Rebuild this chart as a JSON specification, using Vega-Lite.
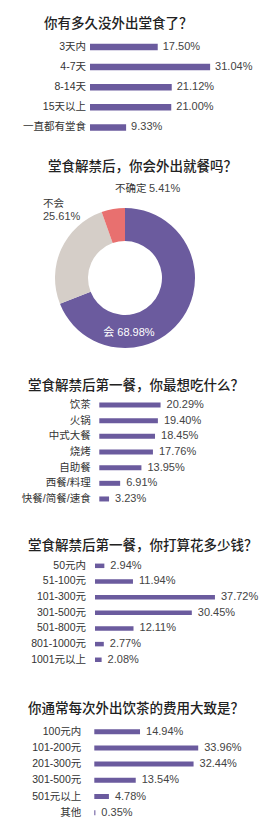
{
  "$schema": "https://vega.github.io/schema/vega-lite/v6.json",
  "padding": {"top": 16, "left": 0, "right": 0, "bottom": 0},
  "spacing": 0,
  "background": "white",
  "config": {
    "view": {"stroke": null},
    "title": {"font": "Noto Sans CJK SC", "fontSize": 13.5, "fontWeight": 500, "color": "#222222", "anchor": "start", "frame": "group", "offset": 2},
    "text": {"font": "Liberation Sans, Noto Sans CJK SC", "fontSize": 10.5, "baseline": "middle"}
  },
  "vconcat": [
    {
      "width": 273, "height": 127.5,
      "title": {"text": "你有多久没外出堂食了？", "dx": 44},
      "data": {"values": [
        {"cat": "3天内", "pct": 0.1750},
        {"cat": "4-7天", "pct": 0.3104},
        {"cat": "8-14天", "pct": 0.2112},
        {"cat": "15天以上", "pct": 0.2100},
        {"cat": "一直都有堂食", "pct": 0.0933}
      ]},
      "encoding": {"y": {"field": "cat", "type": "nominal", "sort": null, "axis": null, "scale": {"range": [4.9, 105.5], "paddingInner": 0, "paddingOuter": 0}}},
      "layer": [
        {"mark": {"type": "bar", "size": 6.5, "color": "#6b5b9e"},
         "encoding": {"x": {"field": "pct", "type": "quantitative", "axis": null, "scale": {"domain": [0, 0.4], "range": [90, 244.8]}}}},
        {"mark": {"type": "text", "align": "right", "dx": -4, "color": "#333333"},
         "encoding": {"x": {"datum": 0}, "text": {"field": "cat"}}},
        {"mark": {"type": "text", "align": "left", "dx": 5, "fontSize": 11, "color": "#444444"},
         "encoding": {"x": {"field": "pct", "type": "quantitative"}, "text": {"field": "pct", "format": ".2%"}}}
      ]
    },
    {
      "width": 250, "height": 200,
      "title": {"text": "堂食解禁后，你会外出就餐吗？", "dx": 48, "offset": 4.5},
      "data": {"values": [
        {"cat": "会", "pct": 0.6898},
        {"cat": "不会", "pct": 0.2561},
        {"cat": "不确定", "pct": 0.0541}
      ]},
      "layer": [
        {"mark": {"type": "arc", "outerRadius": 70, "innerRadius": 37},
         "encoding": {
           "theta": {"field": "pct", "type": "quantitative", "stack": true},
           "order": {"field": "pct", "sort": "descending"},
           "color": {"field": "cat", "type": "nominal", "legend": null, "scale": {"domain": ["会", "不会", "不确定"], "range": ["#6b5b9e", "#d5cec8", "#e8706f"]}}}},
        {"transform": [{"filter": "datum.cat === '会'"}],
         "mark": {"type": "text", "align": "left", "dx": -21.7, "dy": 54.7, "color": "white", "fontSize": 11},
         "encoding": {"text": {"field": "cat"}}},
        {"transform": [{"filter": "datum.cat === '会'"}],
         "mark": {"type": "text", "align": "left", "dx": -7.7, "dy": 54.7, "color": "white", "fontSize": 11},
         "encoding": {"text": {"field": "pct", "format": ".2%"}}},
        {"transform": [{"filter": "datum.cat === '不会'"}],
         "mark": {"type": "text", "align": "left", "dx": -82, "dy": -73.7, "color": "#333333"},
         "encoding": {"text": {"field": "cat"}}},
        {"transform": [{"filter": "datum.cat === '不会'"}],
         "mark": {"type": "text", "align": "left", "dx": -82, "dy": -61.2, "color": "#444444", "fontSize": 11},
         "encoding": {"text": {"field": "pct", "format": ".2%"}}},
        {"transform": [{"filter": "datum.cat === '不确定'"}],
         "mark": {"type": "text", "align": "left", "dx": -10, "dy": -88.7, "color": "#333333"},
         "encoding": {"text": {"field": "cat"}}},
        {"transform": [{"filter": "datum.cat === '不确定'"}],
         "mark": {"type": "text", "align": "left", "dx": 24, "dy": -88.7, "color": "#444444", "fontSize": 11},
         "encoding": {"text": {"field": "pct", "format": ".2%"}}}
      ]
    },
    {
      "width": 273, "height": 143.2,
      "title": {"text": "堂食解禁后第一餐，你最想吃什么？", "dx": 28},
      "data": {"values": [
        {"cat": "饮茶", "pct": 0.2029},
        {"cat": "火锅", "pct": 0.1940},
        {"cat": "中式大餐", "pct": 0.1845},
        {"cat": "烧烤", "pct": 0.1776},
        {"cat": "自助餐", "pct": 0.1395},
        {"cat": "西餐/料理", "pct": 0.0691},
        {"cat": "快餐/简餐/速食", "pct": 0.0323}
      ]},
      "encoding": {"y": {"field": "cat", "type": "nominal", "sort": null, "axis": null, "scale": {"range": [3.2, 112.8], "paddingInner": 0, "paddingOuter": 0}}},
      "layer": [
        {"mark": {"type": "bar", "size": 5, "color": "#6b5b9e"},
         "encoding": {"x": {"field": "pct", "type": "quantitative", "axis": null, "scale": {"domain": [0, 0.4], "range": [99.3, 220.1]}}}},
        {"mark": {"type": "text", "align": "right", "dx": -8.6, "color": "#333333"},
         "encoding": {"x": {"datum": 0}, "text": {"field": "cat"}}},
        {"mark": {"type": "text", "align": "left", "dx": 6, "fontSize": 11, "color": "#444444"},
         "encoding": {"x": {"field": "pct", "type": "quantitative"}, "text": {"field": "pct", "format": ".2%"}}}
      ]
    },
    {
      "width": 273, "height": 146.1,
      "title": {"text": "堂食解禁后第一餐，你打算花多少钱？", "dx": 28},
      "data": {"values": [
        {"cat": "50元内", "pct": 0.0294},
        {"cat": "51-100元", "pct": 0.1194},
        {"cat": "101-300元", "pct": 0.3772},
        {"cat": "301-500元", "pct": 0.3045},
        {"cat": "501-800元", "pct": 0.1211},
        {"cat": "801-1000元", "pct": 0.0277},
        {"cat": "1001元以上", "pct": 0.0208}
      ]},
      "encoding": {"y": {"field": "cat", "type": "nominal", "sort": null, "axis": null, "scale": {"range": [4.0, 113.6], "paddingInner": 0, "paddingOuter": 0}}},
      "layer": [
        {"mark": {"type": "bar", "size": 4.5, "color": "#6b5b9e"},
         "encoding": {"x": {"field": "pct", "type": "quantitative", "axis": null, "scale": {"domain": [0, 0.4], "range": [95, 222.2]}}}},
        {"mark": {"type": "text", "align": "right", "dx": -9, "color": "#333333"},
         "encoding": {"x": {"datum": 0}, "text": {"field": "cat"}}},
        {"mark": {"type": "text", "align": "left", "dx": 6, "fontSize": 11, "color": "#444444"},
         "encoding": {"x": {"field": "pct", "type": "quantitative"}, "text": {"field": "pct", "format": ".2%"}}}
      ]
    },
    {
      "width": 273, "height": 117.2,
      "title": {"text": "你通常每次外出饮茶的费用大致是？", "dx": 28},
      "data": {"values": [
        {"cat": "100元内", "pct": 0.1494},
        {"cat": "101-200元", "pct": 0.3396},
        {"cat": "201-300元", "pct": 0.3244},
        {"cat": "301-500元", "pct": 0.1354},
        {"cat": "501元以上", "pct": 0.0478},
        {"cat": "其他", "pct": 0.0035}
      ]},
      "encoding": {"y": {"field": "cat", "type": "nominal", "sort": null, "axis": null, "scale": {"range": [6.6, 103.8], "paddingInner": 0, "paddingOuter": 0}}},
      "layer": [
        {"mark": {"type": "bar", "size": 5, "color": "#6b5b9e"},
         "encoding": {"x": {"field": "pct", "type": "quantitative", "axis": null, "scale": {"domain": [0, 0.4], "range": [94.3, 216.7]}}}},
        {"mark": {"type": "text", "align": "right", "dx": -13, "color": "#333333"},
         "encoding": {"x": {"datum": 0}, "text": {"field": "cat"}}},
        {"mark": {"type": "text", "align": "left", "dx": 6, "fontSize": 11, "color": "#444444"},
         "encoding": {"x": {"field": "pct", "type": "quantitative"}, "text": {"field": "pct", "format": ".2%"}}}
      ]
    }
  ]
}
